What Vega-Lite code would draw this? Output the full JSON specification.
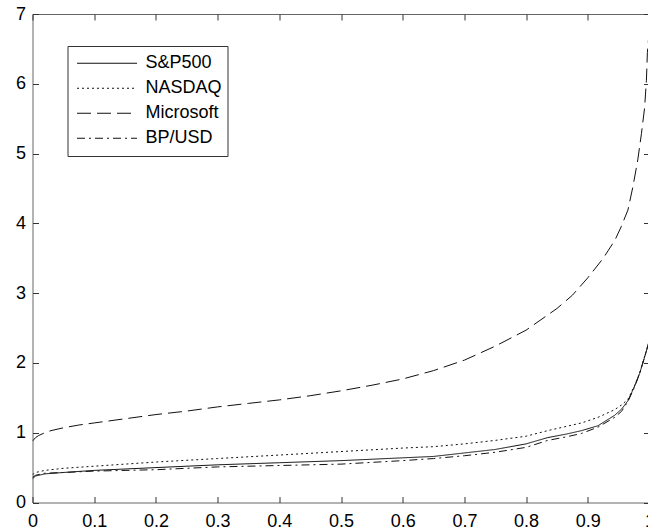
{
  "$schema": "https://vega.github.io/schema/vega-lite/v6.json",
  "autosize": {"type": "none"},
  "width": 617,
  "height": 488.5,
  "padding": {"left": 32.5, "top": 14, "right": 0, "bottom": 27.5},
  "background": "white",
  "config": {
    "view": {"stroke": "#666", "strokeWidth": 1},
    "font": "Liberation Sans",
    "axis": {
      "grid": false,
      "domain": false,
      "labelFont": "Liberation Sans",
      "labelFontSize": 18,
      "labelColor": "black",
      "ticks": true,
      "tickColor": "#333",
      "tickWidth": 1,
      "tickSize": -6,
      "title": null
    }
  },
  "datasets": {
    "curves": [
      {"series": "Microsoft", "x": 0, "y": 0.88},
      {"series": "Microsoft", "x": 0.005, "y": 0.93},
      {"series": "Microsoft", "x": 0.01, "y": 0.96},
      {"series": "Microsoft", "x": 0.02, "y": 1.0},
      {"series": "Microsoft", "x": 0.03, "y": 1.03},
      {"series": "Microsoft", "x": 0.05, "y": 1.07},
      {"series": "Microsoft", "x": 0.075, "y": 1.11},
      {"series": "Microsoft", "x": 0.1, "y": 1.14},
      {"series": "Microsoft", "x": 0.15, "y": 1.2},
      {"series": "Microsoft", "x": 0.2, "y": 1.26},
      {"series": "Microsoft", "x": 0.25, "y": 1.31},
      {"series": "Microsoft", "x": 0.3, "y": 1.37},
      {"series": "Microsoft", "x": 0.35, "y": 1.42},
      {"series": "Microsoft", "x": 0.4, "y": 1.47},
      {"series": "Microsoft", "x": 0.45, "y": 1.53},
      {"series": "Microsoft", "x": 0.5, "y": 1.6},
      {"series": "Microsoft", "x": 0.55, "y": 1.68},
      {"series": "Microsoft", "x": 0.6, "y": 1.77},
      {"series": "Microsoft", "x": 0.65, "y": 1.89},
      {"series": "Microsoft", "x": 0.7, "y": 2.04},
      {"series": "Microsoft", "x": 0.75, "y": 2.24},
      {"series": "Microsoft", "x": 0.8, "y": 2.47},
      {"series": "Microsoft", "x": 0.85, "y": 2.78},
      {"series": "Microsoft", "x": 0.875, "y": 2.97},
      {"series": "Microsoft", "x": 0.9, "y": 3.22},
      {"series": "Microsoft", "x": 0.925, "y": 3.5},
      {"series": "Microsoft", "x": 0.944, "y": 3.76},
      {"series": "Microsoft", "x": 0.954, "y": 3.95},
      {"series": "Microsoft", "x": 0.965, "y": 4.19},
      {"series": "Microsoft", "x": 0.973, "y": 4.52},
      {"series": "Microsoft", "x": 0.981, "y": 4.91},
      {"series": "Microsoft", "x": 0.987, "y": 5.29},
      {"series": "Microsoft", "x": 0.992, "y": 5.65},
      {"series": "Microsoft", "x": 0.995, "y": 6.05},
      {"series": "Microsoft", "x": 0.9966, "y": 6.45},
      {"series": "Microsoft", "x": 0.9985, "y": 6.65},

      {"series": "NASDAQ", "x": 0, "y": 0.4},
      {"series": "NASDAQ", "x": 0.005, "y": 0.43},
      {"series": "NASDAQ", "x": 0.02, "y": 0.46},
      {"series": "NASDAQ", "x": 0.05, "y": 0.49},
      {"series": "NASDAQ", "x": 0.1, "y": 0.52},
      {"series": "NASDAQ", "x": 0.15, "y": 0.55},
      {"series": "NASDAQ", "x": 0.2, "y": 0.58},
      {"series": "NASDAQ", "x": 0.3, "y": 0.63},
      {"series": "NASDAQ", "x": 0.4, "y": 0.68},
      {"series": "NASDAQ", "x": 0.5, "y": 0.73},
      {"series": "NASDAQ", "x": 0.6, "y": 0.78},
      {"series": "NASDAQ", "x": 0.65, "y": 0.8},
      {"series": "NASDAQ", "x": 0.7, "y": 0.84},
      {"series": "NASDAQ", "x": 0.75, "y": 0.89},
      {"series": "NASDAQ", "x": 0.8, "y": 0.95},
      {"series": "NASDAQ", "x": 0.835, "y": 1.03},
      {"series": "NASDAQ", "x": 0.865, "y": 1.09},
      {"series": "NASDAQ", "x": 0.89, "y": 1.14},
      {"series": "NASDAQ", "x": 0.9165, "y": 1.22},
      {"series": "NASDAQ", "x": 0.9436, "y": 1.33},
      {"series": "NASDAQ", "x": 0.955, "y": 1.4},
      {"series": "NASDAQ", "x": 0.9652, "y": 1.48},
      {"series": "NASDAQ", "x": 0.976, "y": 1.68},
      {"series": "NASDAQ", "x": 0.984, "y": 1.85},
      {"series": "NASDAQ", "x": 0.9916, "y": 2.08},
      {"series": "NASDAQ", "x": 0.9959, "y": 2.2},
      {"series": "NASDAQ", "x": 0.999, "y": 2.3},

      {"series": "S&P500", "x": 0, "y": 0.34},
      {"series": "S&P500", "x": 0.005, "y": 0.38},
      {"series": "S&P500", "x": 0.02, "y": 0.41},
      {"series": "S&P500", "x": 0.05, "y": 0.43},
      {"series": "S&P500", "x": 0.1, "y": 0.46},
      {"series": "S&P500", "x": 0.15, "y": 0.48},
      {"series": "S&P500", "x": 0.2, "y": 0.5},
      {"series": "S&P500", "x": 0.3, "y": 0.54},
      {"series": "S&P500", "x": 0.4, "y": 0.57},
      {"series": "S&P500", "x": 0.5, "y": 0.6},
      {"series": "S&P500", "x": 0.6, "y": 0.64},
      {"series": "S&P500", "x": 0.65, "y": 0.66},
      {"series": "S&P500", "x": 0.7, "y": 0.71},
      {"series": "S&P500", "x": 0.75, "y": 0.76},
      {"series": "S&P500", "x": 0.8, "y": 0.84},
      {"series": "S&P500", "x": 0.835, "y": 0.93},
      {"series": "S&P500", "x": 0.865, "y": 0.98},
      {"series": "S&P500", "x": 0.89, "y": 1.03},
      {"series": "S&P500", "x": 0.9165, "y": 1.1},
      {"series": "S&P500", "x": 0.9436, "y": 1.25},
      {"series": "S&P500", "x": 0.955, "y": 1.34},
      {"series": "S&P500", "x": 0.9652, "y": 1.46},
      {"series": "S&P500", "x": 0.976, "y": 1.67},
      {"series": "S&P500", "x": 0.984, "y": 1.85},
      {"series": "S&P500", "x": 0.9916, "y": 2.07},
      {"series": "S&P500", "x": 0.9959, "y": 2.2},
      {"series": "S&P500", "x": 0.999, "y": 2.3},

      {"series": "BP/USD", "x": 0, "y": 0.36},
      {"series": "BP/USD", "x": 0.005, "y": 0.39},
      {"series": "BP/USD", "x": 0.02, "y": 0.42},
      {"series": "BP/USD", "x": 0.05, "y": 0.43},
      {"series": "BP/USD", "x": 0.1, "y": 0.45},
      {"series": "BP/USD", "x": 0.15, "y": 0.46},
      {"series": "BP/USD", "x": 0.2, "y": 0.47},
      {"series": "BP/USD", "x": 0.3, "y": 0.51},
      {"series": "BP/USD", "x": 0.4, "y": 0.53},
      {"series": "BP/USD", "x": 0.5, "y": 0.55},
      {"series": "BP/USD", "x": 0.6, "y": 0.6},
      {"series": "BP/USD", "x": 0.65, "y": 0.63},
      {"series": "BP/USD", "x": 0.7, "y": 0.67},
      {"series": "BP/USD", "x": 0.75, "y": 0.72},
      {"series": "BP/USD", "x": 0.8, "y": 0.79},
      {"series": "BP/USD", "x": 0.835, "y": 0.89},
      {"series": "BP/USD", "x": 0.865, "y": 0.94},
      {"series": "BP/USD", "x": 0.89, "y": 0.99},
      {"series": "BP/USD", "x": 0.9165, "y": 1.08},
      {"series": "BP/USD", "x": 0.9436, "y": 1.22},
      {"series": "BP/USD", "x": 0.955, "y": 1.31},
      {"series": "BP/USD", "x": 0.9652, "y": 1.45},
      {"series": "BP/USD", "x": 0.976, "y": 1.66},
      {"series": "BP/USD", "x": 0.984, "y": 1.85},
      {"series": "BP/USD", "x": 0.9916, "y": 2.07},
      {"series": "BP/USD", "x": 0.9959, "y": 2.2},
      {"series": "BP/USD", "x": 0.999, "y": 2.3}
    ]
  },
  "data": {"name": "curves"},
  "layer": [
    {
      "mark": {"type": "line", "color": "#111", "strokeWidth": 1, "clip": true},
      "encoding": {
        "x": {
          "field": "x", "type": "quantitative",
          "scale": {"domain": [0, 1], "nice": false, "zero": false},
          "axis": {"orient": "bottom", "values": [0, 0.1, 0.2, 0.3, 0.4, 0.5, 0.6, 0.7, 0.8, 0.9, 1], "format": "~g", "labelPadding": 16, "labelFlush": false, "labelOverlap": false}
        },
        "y": {
          "field": "y", "type": "quantitative",
          "scale": {"domain": [0, 7], "nice": false, "zero": false},
          "axis": {"orient": "left", "values": [0, 1, 2, 3, 4, 5, 6, 7], "format": "~g", "labelPadding": 13, "labelFlush": false, "labelOverlap": false}
        },
        "strokeDash": {
          "field": "series", "type": "nominal",
          "scale": {
            "domain": ["S&P500", "NASDAQ", "Microsoft", "BP/USD"],
            "range": [[1, 0], [2, 3], [14, 6], [8, 4, 2, 4]]
          },
          "legend": {
            "orient": "none",
            "legendX": 35,
            "legendY": 32,
            "title": null,
            "padding": 5,
            "strokeColor": "#333",
            "fillColor": "white",
            "cornerRadius": 0,
            "rowPadding": 0,
            "clipHeight": 24.5,
            "symbolType": "stroke",
            "symbolSize": 3600,
            "symbolOffset": 4,
            "symbolStrokeColor": "#111",
            "symbolStrokeWidth": 1,
            "labelOffset": 8,
            "labelFont": "Liberation Sans",
            "labelFontSize": 18,
            "labelColor": "black",
            "labelLimit": 300
          }
        }
      }
    },
    {
      "mark": {"type": "line", "opacity": 0},
      "encoding": {
        "x": {
          "field": "x", "type": "quantitative",
          "axis": {"orient": "top", "values": [0, 0.1, 0.2, 0.3, 0.4, 0.5, 0.6, 0.7, 0.8, 0.9, 1], "labels": false}
        },
        "y": {
          "field": "y", "type": "quantitative",
          "axis": {"orient": "right", "values": [0, 1, 2, 3, 4, 5, 6, 7], "labels": false}
        },
        "detail": {"field": "series", "type": "nominal"}
      }
    }
  ],
  "resolve": {"axis": {"x": "independent", "y": "independent"}}
}
